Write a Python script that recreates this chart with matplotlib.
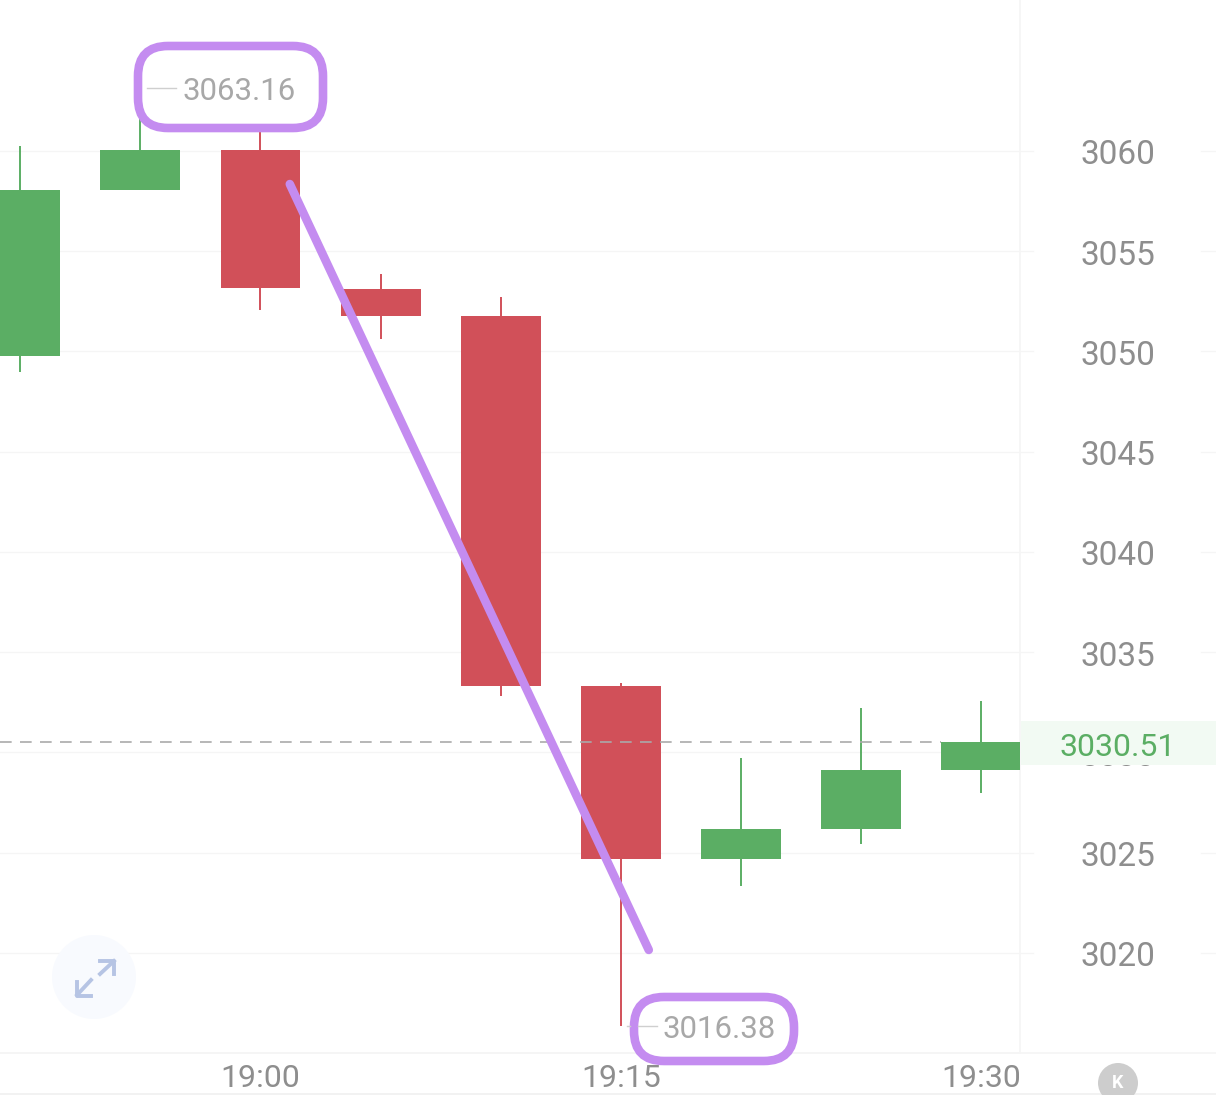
#!/usr/bin/env python3
"""
Recreate 5 minute candlestick screenshot with hand drawn purple marks
"""

import matplotlib
matplotlib.use('Agg')
import matplotlib.pyplot as plt
from matplotlib.patches import FancyBboxPatch, Circle, Rectangle
from matplotlib.transforms import Affine2D, ScaledTranslation

opens = [3049.78, 3058.05, 3060.05, 3053.12, 3051.77, 3033.32, 3024.69, 3026.18, 3029.13]
closes = [3058.05, 3060.05, 3053.17, 3051.77, 3033.32, 3024.69, 3026.18, 3029.13, 3030.51]
highs = [3060.25, 3061.6, 3063.16, 3053.87, 3052.72, 3033.47, 3029.73, 3032.22, 3032.57]
lows = [3048.98, 3058.05, 3052.07, 3050.62, 3032.82, 3016.38, 3023.34, 3025.44, 3027.98]

price_ticks = [3060, 3055, 3050, 3045, 3040, 3035, 3030, 3025, 3020]
time_ticks = [2, 5, 8]
time_labels = ['19:00', '19:15', '19:30']

trend_x = [2.244, 5.233]
trend_y = [3058.35, 3020.15]

W, H = 1216, 1095
GREEN = '#5bae64'
RED = '#d15059'
PURPLE = '#c48cf0'
GRID = '#f5f5f5'
TEXT = '#8e8e8e'
LABEL = '#a8a8a8'

plt.rcParams['font.family'] = ['Roboto', 'DejaVu Sans']

fig = plt.figure(figsize=(W / 100, H / 100), dpi=100)
ax = fig.add_axes([0, 1 - 1053 / H, 1020 / W, 1053 / H])
ax.set_xlim(-0.169, 8.324)
ax.set_ylim(3015.01, 3067.53)
ax.set_axisbelow(True)

# screen pixels, origin top left, for the overlay stuff
px = Affine2D().scale(1 / W, -1 / H).translate(0, 1) + fig.transFigure

for side in ['top', 'left']:
    ax.spines[side].set_visible(False)
for side in ['right', 'bottom']:
    ax.spines[side].set_color(GRID)
    ax.spines[side].set_linewidth(1.2)
ax.spines['bottom'].set_zorder(0.3)

# grid stops short of the labels and comes back at the far edge
ytrans = ax.get_yaxis_transform()
for p in price_ticks:
    ax.plot([0, 1033 / 1020], [p, p], color=GRID, lw=0.9, transform=ytrans, clip_on=False, zorder=0.2)
    ax.plot([1201 / 1020, W / 1020], [p, p], color=GRID, lw=0.9, transform=ytrans, clip_on=False, zorder=0.2)
ax.plot([0, W / 1020], [3015.01, 3015.01], color=GRID, lw=1.2, transform=ytrans, clip_on=False, zorder=0.2)

ax.yaxis.tick_right()
ax.set_yticks(price_ticks)
ax.set_yticklabels([str(p) for p in price_ticks])
ax.tick_params(axis='y', length=0, pad=70.5, labelsize=24, labelcolor=TEXT)
nudge = ScaledTranslation(0, -1 / 100, fig.dpi_scale_trans)
for lab in ax.get_yticklabels():
    lab.set_ha('center')
    lab.set_transform(lab.get_transform() + nudge)

ax.set_xticks(time_ticks)
ax.set_xticklabels(time_labels)
ax.tick_params(axis='x', length=0, pad=8, labelsize=23, labelcolor=TEXT)

# last price band hides most of the 3030 label
fig.add_artist(Rectangle((1021, 721), 195, 44, transform=px, facecolor='#f2faf3', edgecolor='none', zorder=4))

# candles
for i in range(len(opens)):
    color = GREEN if closes[i] >= opens[i] else RED
    ax.vlines(i, lows[i], highs[i], color=color, lw=1.4, zorder=3)
    ax.bar(i, abs(closes[i] - opens[i]), bottom=min(opens[i], closes[i]), width=0.666, color=color, zorder=3.1)

ax.axhline(closes[-1], xmax=(7.67 + 0.169) / 8.493, color='#aaaaaa', lw=1.2, dashes=(7, 5), zorder=3.2)

# hand drawn trend stroke
ax.plot(trend_x, trend_y, color=PURPLE, lw=6.2, solid_capstyle='round', zorder=3.5)

# purple boxes round the high and low labels
box_style = 'round,pad=0,rounding_size=30'
fig.add_artist(FancyBboxPatch((138, 46), 185, 82, boxstyle=box_style, transform=px,
                              facecolor='white', edgecolor=PURPLE, lw=6.2, zorder=5))
fig.add_artist(FancyBboxPatch((634, 997), 160, 64, boxstyle=box_style, transform=px,
                              facecolor='white', edgecolor=PURPLE, lw=6.2, zorder=5))

fig.add_artist(plt.Line2D([147, 176], [88, 88], transform=px, color='#cfcfcf', lw=1, zorder=6))
fig.add_artist(plt.Line2D([627, 630], [1026, 1026], transform=px, color='#cfcfcf', lw=1, zorder=6))
fig.add_artist(plt.Line2D([638, 657], [1026, 1026], transform=px, color='#cfcfcf', lw=1, zorder=6))
fig.text(183, 91, f'{max(highs):.2f}', transform=px, fontsize=22.4, color=LABEL, ha='left', va='center', zorder=6)
fig.text(663, 1029, f'{min(lows):.2f}', transform=px, fontsize=22.4, color=LABEL, ha='left', va='center', zorder=6)

fig.text(1118, 747, f'{closes[-1]:.2f}', transform=px, fontsize=23, color=GREEN, ha='center', va='center', zorder=6)

# expand button
fig.add_artist(Circle((94, 977), 42, transform=px, facecolor='#f8fafe', edgecolor='none', zorder=2))
for xs, ys in [([100, 114], [974, 961]), ([100, 114, 114], [961, 961, 974]),
               ([91, 77], [980, 995]), ([77, 77, 91], [982, 996, 996])]:
    fig.add_artist(plt.Line2D(xs, ys, transform=px, color='#b6c4e4', lw=2.8, zorder=3))

# K button and bottom edge
fig.add_artist(plt.Line2D([0, W], [1094, 1094], transform=px, color='#f0f0f0', lw=1.2, zorder=2))
fig.add_artist(Circle((1118, 1083), 20, transform=px, facecolor='#cdcdcd', edgecolor='none', zorder=3))
fig.text(1118, 1083, 'K', transform=px, fontsize=13, fontweight='bold', color='white', ha='center', va='center', zorder=4)

fig.savefig('out.png', dpi=100)
